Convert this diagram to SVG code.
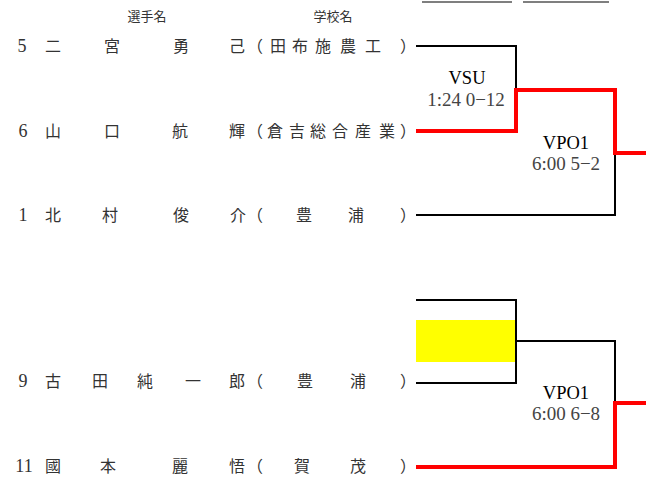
<svg xmlns="http://www.w3.org/2000/svg" width="646" height="479" viewBox="0 0 646 479">
<style>
.hd{font-family:"Noto Sans CJK JP","Liberation Sans",sans-serif;font-size:13px;fill:#333;text-anchor:middle}
.nm{font-family:"Liberation Serif","Noto Sans CJK JP",serif;font-size:16px;fill:#333;text-anchor:middle}
.dg{font-size:18px}
.mt{font-family:"Liberation Serif","DejaVu Serif",serif;font-size:18.5px;fill:#000;text-anchor:middle}
.sc{font-family:"Liberation Serif","DejaVu Serif",serif;font-size:19px;fill:#444;text-anchor:middle}
.bk{fill:none;stroke:#000;stroke-width:2}
.rd{fill:none;stroke:#f00;stroke-width:4}
</style>
<rect width="646" height="479" fill="#fff"/>
<g id="header">
<line x1="422" y1="2" x2="512" y2="2" stroke="#000" stroke-width="1.2"/>
<line x1="523" y1="2" x2="609" y2="2" stroke="#000" stroke-width="1.2"/>
<text class="hd" x="147" y="21">選手名</text>
<text class="hd" x="333" y="21">学校名</text>
</g>
<g id="connectors">
<rect x="416" y="320" width="99" height="42" fill="#ff0"/>
<polyline class="bk" points="416,46 516,46 516,90"/>
<polyline class="bk" points="615,153 615,215 416,215"/>
<polyline class="rd" points="416,131 516,131 516,90 615,90 615,153 646,153"/>
<polyline class="bk" points="416,300 516,300 516,383 416,383"/>
<polyline class="bk" points="516,341 615,341 615,403"/>
<polyline class="rd" points="416,467 615,467 615,403 646,403"/>
</g>
<g id="p5"><text class="nm" y="52"><tspan class="dg" x="22">5</tspan><tspan x="53 112 181 237 255 278 300 323 348 373 408">二宮勇己（田布施農工）</tspan></text></g>
<g id="p6"><text class="nm" y="137"><tspan class="dg" x="23">6</tspan><tspan x="53 112 180 237 255 275 297 318 340 363 387 408">山口航輝（倉吉総合産業）</tspan></text></g>
<g id="p1"><text class="nm" y="221"><tspan class="dg" x="23">1</tspan><tspan x="53 110 181 238 255 304 356 408">北村俊介（豊浦）</tspan></text></g>
<g id="p9"><text class="nm" y="387"><tspan class="dg" x="23">9</tspan><tspan x="53 100 145 193 237 255 305 358 408">古田純一郎（豊浦）</tspan></text></g>
<g id="p11"><text class="nm" y="472"><tspan class="dg" x="24">11</tspan><tspan x="53 108 180 237 255 302 358 408">國本麗悟（賀茂）</tspan></text></g>
<g id="m1"><text class="mt" x="467" y="84">VSU</text><text class="sc" x="466" y="106">1:24 0−12</text></g>
<g id="m2"><text class="mt" x="566" y="149">VPO1</text><text class="sc" x="566" y="170">6:00 5−2</text></g>
<g id="m3"><text class="mt" x="566" y="399">VPO1</text><text class="sc" x="566" y="420">6:00 6−8</text></g>
</svg>
